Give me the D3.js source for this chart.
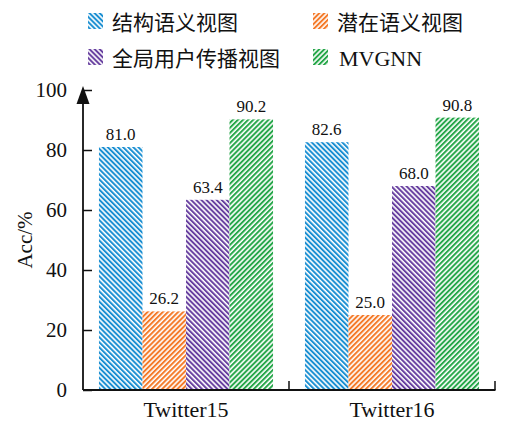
<!DOCTYPE html>
<html><head><meta charset="utf-8">
<script src="https://cdn.jsdelivr.net/npm/d3@7"></script>
<style>body{margin:0;background:#fff}svg{display:block}</style>
</head><body>
<svg id="c" width="510" height="423"></svg>
<script>
const categories = ["Twitter15", "Twitter16"];
const seriesNames = ["结构语义视图", "潜在语义视图", "全局用户传播视图", "MVGNN"];
const seriesValues = [
  [81.0, 82.6],
  [26.2, 25.0],
  [63.4, 68.0],
  [90.2, 90.8]
];
const yTicks = [0, 20, 40, 60, 80, 100];
const colors = ["#1b8fd2", "#f47b2b", "#6840a0", "#27a74a"];
const dirs = [-45, 45, -45, 45];

const svg = d3.select("#c");
const serif = "'Liberation Serif','Times New Roman',serif";
const cjk = "'Noto Sans CJK SC','Noto Sans',sans-serif";

const defs = svg.append("defs");
colors.forEach((c, i) => {
  const p = defs.append("pattern").attr("id", "p" + i)
    .attr("patternUnits", "userSpaceOnUse").attr("width", 3.6).attr("height", 10)
    .attr("patternTransform", `rotate(${dirs[i]})`);
  p.append("rect").attr("width", 3.6).attr("height", 10).attr("fill", "#fff");
  p.append("rect").attr("width", 2.0).attr("height", 10).attr("fill", c);
});

const x0 = d3.scaleBand().domain(categories).range([83, 495]).paddingInner(0.155).paddingOuter(0.0775);
const x1 = d3.scaleBand().domain(d3.range(seriesNames.length)).range([0, x0.bandwidth()]);
const y = d3.scaleLinear().domain([0, 100]).range([390, 90]);

const data = [];
categories.forEach((cat, ci) => seriesValues.forEach((vals, si) => data.push({cat, si, v: vals[ci]})));

svg.append("g").selectAll("rect").data(data).join("rect")
  .attr("x", d => x0(d.cat) + x1(d.si))
  .attr("y", d => y(d.v))
  .attr("width", x1.bandwidth())
  .attr("height", d => y(0) - y(d.v))
  .attr("fill", d => `url(#p${d.si})`);

svg.append("g").selectAll("text").data(data).join("text")
  .attr("x", d => x0(d.cat) + x1(d.si) + x1.bandwidth() / 2)
  .attr("y", d => y(d.v) - 7)
  .attr("text-anchor", "middle")
  .attr("font-family", serif).attr("font-size", 17).attr("fill", "#111")
  .text(d => d.v.toFixed(1));

// Y axis
const yAxis = d3.axisRight(y).tickValues(yTicks).tickSize(9).tickFormat("");
const gy = svg.append("g").attr("transform", "translate(83,0)").call(yAxis);
gy.select(".domain").remove();
gy.selectAll(".tick line").attr("stroke", "#111").attr("stroke-width", 1.5);
svg.append("line").attr("x1", 83).attr("x2", 83).attr("y1", y(0)).attr("y2", 100)
  .attr("stroke", "#111").attr("stroke-width", 1.8);
svg.append("path").attr("d", "M83,86 L76.5,104 L89.5,104 Z").attr("fill", "#111");
svg.append("g").selectAll("text").data(yTicks).join("text")
  .attr("x", 67).attr("y", d => y(d) + 7)
  .attr("text-anchor", "end").attr("font-family", serif).attr("font-size", 21).attr("fill", "#111")
  .text(d => d);

// X axis
svg.append("line").attr("x1", 83).attr("x2", 495.5).attr("y1", y(0)).attr("y2", y(0))
  .attr("stroke", "#111").attr("stroke-width", 1.8);
const bounds = categories.map(c => x0(c) + x0.bandwidth() + x0.step() * x0.paddingInner() / 2);
svg.append("g").selectAll("line").data(bounds).join("line")
  .attr("x1", d => d).attr("x2", d => d).attr("y1", y(0)).attr("y2", y(0) - 9)
  .attr("stroke", "#111").attr("stroke-width", 1.5);
svg.append("g").selectAll("text").data(categories).join("text")
  .attr("x", d => x0(d) + x0.bandwidth() / 2).attr("y", 417)
  .attr("text-anchor", "middle").attr("font-family", serif).attr("font-size", 22).attr("fill", "#111")
  .text(d => d);

// Y title
svg.append("text").attr("transform", "translate(32,240) rotate(-90)")
  .attr("text-anchor", "middle").attr("font-family", serif).attr("font-size", 21).attr("fill", "#111")
  .text("Acc/%");

// Legend
const legPos = [[88, 13], [313, 13], [88, 49], [313, 49]];
const lg = svg.append("g").selectAll("g").data(seriesNames).join("g")
  .attr("transform", (d, i) => `translate(${legPos[i][0]},${legPos[i][1]})`);
lg.append("rect").attr("width", 15).attr("height", 16).attr("fill", (d, i) => `url(#p${i})`);
lg.append("text").attr("x", d => d === "MVGNN" ? 26 : 24).attr("y", 16.5)
  .attr("font-family", (d, i) => i === 3 ? serif : cjk)
  .attr("font-size", (d, i) => i === 3 ? 22 : 21).attr("fill", "#111")
  .text(d => d);
</script>
</body></html>
